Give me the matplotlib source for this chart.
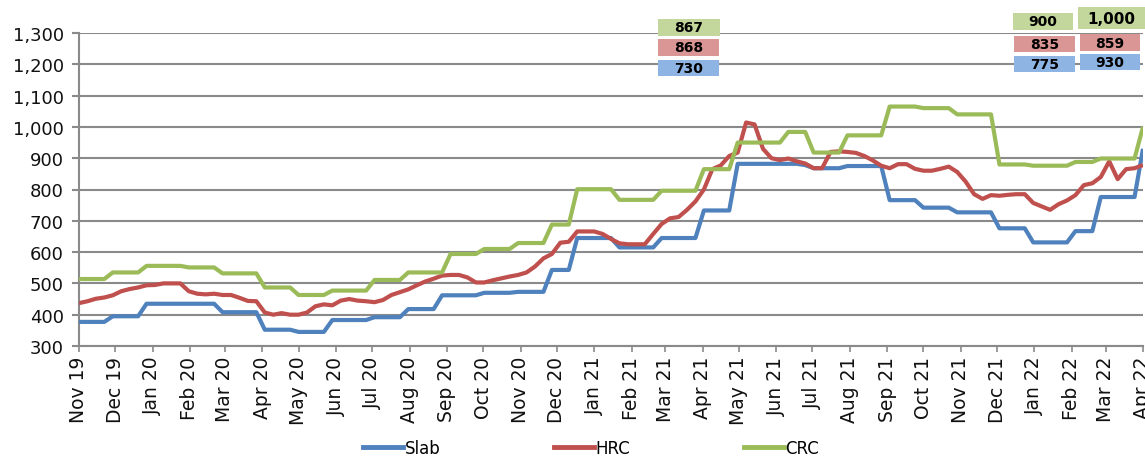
import matplotlib
matplotlib.use('Agg')
import matplotlib.pyplot as plt
import matplotlib.dates as mdates
from matplotlib.ticker import FuncFormatter, MultipleLocator
from matplotlib.patches import Rectangle
from matplotlib.lines import Line2D
import pandas as pd

# ---------------- data (weekly) ----------------
dates = pd.date_range('2019-11-01', periods=127, freq='7D')

slab = [377, 377, 377, 377, 395, 395, 395, 395,
        435, 435, 435, 435, 435, 435, 435, 435, 435,
        408, 408, 408, 408, 408,
        352, 352, 352, 352, 345, 345, 345, 345,
        383, 383, 383, 383, 383, 392, 392, 392, 392,
        418, 418, 418, 418, 462, 462, 462, 462, 462,
        470, 470, 470, 470, 473, 473, 473, 473,
        543, 543, 543, 645, 645, 645, 645, 645,
        615, 615, 615, 615, 615, 645, 645, 645, 645, 645,
        733, 733, 733, 733,
        882, 882, 882, 882, 882, 882, 882, 882, 878,
        868, 868, 868, 868, 875, 875, 875, 875, 875,
        766, 766, 766, 766, 742, 742, 742, 742,
        727, 727, 727, 727, 727, 676, 676, 676, 676,
        631, 631, 631, 631, 631, 667, 667, 667,
        776, 776, 776, 776, 776, 930]

hrc = [437, 443, 451, 455, 462, 475, 482, 487, 494, 495,
       500, 500, 500, 475, 467, 465, 467, 463, 463, 454,
       444, 443, 407, 400, 405, 400, 400, 407, 427, 433,
       430, 445, 450, 445, 443, 440, 447, 463, 472, 481,
       494, 506, 515, 525, 527, 527, 519, 503, 503, 510,
       516, 522, 527, 535, 554, 580, 594, 630, 633, 666,
       666, 666, 658, 642, 628, 625, 625, 625, 658, 690,
       708, 712, 735, 762, 800, 865, 877, 907, 918, 1014,
       1008, 930, 900, 894, 899, 890, 883, 868, 868, 920,
       922, 920, 917, 907, 893, 876, 868, 881, 881, 866,
       860, 860, 866, 873, 856, 825, 785, 770, 782, 780,
       783, 785, 785, 757, 746, 735, 753, 765, 782, 814,
       820, 840, 890, 833, 865, 868, 878]

crc = [514, 514, 514, 514, 535, 535, 535, 535,
       556, 556, 556, 556, 556, 551, 551, 551, 551,
       532, 532, 532, 532, 532, 487, 487, 487, 487,
       463, 463, 463, 463, 477, 477, 477, 477, 477,
       511, 511, 511, 511, 535, 535, 535, 535, 535,
       594, 594, 594, 594, 610, 610, 610, 610,
       629, 629, 629, 629, 688, 688, 688,
       801, 801, 801, 801, 801, 767, 767, 767, 767, 767,
       796, 796, 796, 796, 796, 865, 865, 865, 865,
       950, 950, 950, 950, 950, 950, 984, 984, 984,
       918, 918, 918, 918, 973, 973, 973, 973, 973,
       1065, 1065, 1065, 1065, 1060, 1060, 1060, 1060,
       1040, 1040, 1040, 1040, 1040, 880, 880, 880, 880,
       876, 876, 876, 876, 876, 888, 888, 888,
       899, 899, 899, 899, 899, 1000]

series_names = ['Slab', 'HRC', 'CRC']
callout_crc = ['867', '900', '1,000']
callout_hrc = ['868', '835', '859']
callout_slab = ['730', '775', '930']

# ---------------- styling ----------------
colors = ['#4F81BD', '#C0504D', '#9BBB59']
box_colors = {'crc': '#C3D69B', 'hrc': '#DA9694', 'slab': '#8DB4E2'}
grid_col = '#8a8a8a'

W, H = 1145, 460
fig = plt.figure(figsize=(W / 100, H / 100), dpi=100)
fig.patch.set_facecolor('white')
ax = fig.add_axes([79 / W, 1 - 347 / H, 1064 / W, 313 / H])

for vals, c, name in zip([slab, hrc, crc], colors, series_names):
    ax.plot(dates, vals, color=c, lw=3.0, solid_joinstyle='round',
            solid_capstyle='butt', label=name, zorder=3)

ax.set_ylim(300, 1300)
ax.set_xlim(pd.Timestamp('2019-11-01'), pd.Timestamp('2022-04-01'))
ax.yaxis.set_major_locator(MultipleLocator(100))
ax.yaxis.set_major_formatter(FuncFormatter(lambda v, p: f'{int(v):,}'))
ax.xaxis.set_major_locator(mdates.MonthLocator())
ax.xaxis.set_major_formatter(mdates.DateFormatter('%b %y'))

ax.grid(axis='y', color=grid_col, lw=1.5, zorder=0)
ax.set_axisbelow(True)
for s in ['top', 'right']:
    ax.spines[s].set_visible(False)
for s in ['left', 'bottom']:
    ax.spines[s].set_color(grid_col)
    ax.spines[s].set_linewidth(1.5)

ax.tick_params(axis='y', direction='out', length=5, width=1.5, color=grid_col,
               labelsize=13, pad=6, labelcolor='#111111')
ax.tick_params(axis='x', direction='out', length=4, width=1.2, color=grid_col,
               labelsize=13.5, pad=3, labelrotation=90, labelcolor='#111111')
for lab in ax.get_xticklabels():
    lab.set_ha('center')

# ---------------- callout boxes ----------------
def box(x0, y0, x1, y1, color, text, size=10):
    fig.add_artist(Rectangle((x0 / W, 1 - y1 / H), (x1 - x0) / W, (y1 - y0) / H,
                             transform=fig.transFigure, facecolor=color,
                             edgecolor='none', zorder=5))
    fig.text((x0 + x1) / 2 / W, 1 - (y0 + y1) / 2 / H, text, ha='center',
             va='center', fontsize=size, fontweight='bold', color='black',
             zorder=6)

groups = [
    [(658, 20, 720, 37), (658, 40, 719, 57), (658, 61, 719, 77)],
    [(1013, 14, 1073, 31), (1014, 37, 1075, 53), (1014, 57, 1075, 73)],
    [(1078, 8, 1145, 30), (1080, 35, 1140, 52), (1080, 55, 1140, 71)],
]
for i, g in enumerate(groups):
    box(*g[0], box_colors['crc'], callout_crc[i], size=11 if i == 2 else 10)
    box(*g[1], box_colors['hrc'], callout_hrc[i])
    box(*g[2], box_colors['slab'], callout_slab[i])

# ---------------- legend ----------------
handles = [Line2D([0], [0], color=c, lw=3.5) for c in colors]
fig.legend(handles, series_names, loc='center', bbox_to_anchor=(591 / W, 1 - 449 / H),
           ncol=3, frameon=False, handlelength=2.4, handletextpad=0.1,
           columnspacing=6.8, fontsize=12)

fig.savefig('out.png', dpi=100, facecolor='white')
